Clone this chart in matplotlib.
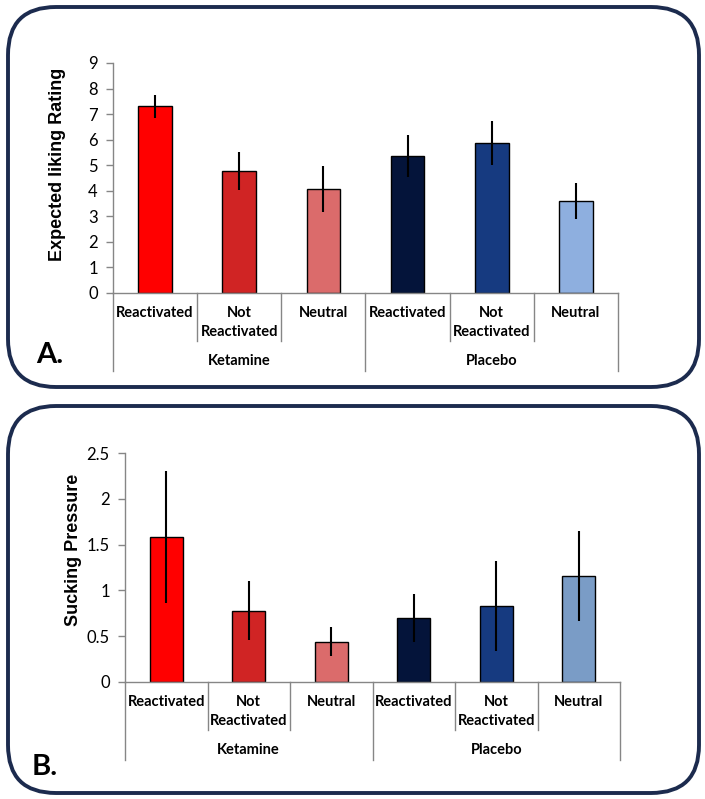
import numpy as np
import matplotlib
matplotlib.use("Agg")
import matplotlib.pyplot as plt
from matplotlib.patches import FancyBboxPatch

# --- data ---
conditions = ["Reactivated", "Not\nReactivated", "Neutral",
              "Reactivated", "Not\nReactivated", "Neutral"]
groups = ["Ketamine", "Placebo"]

liking_mean = [7.3, 4.78, 4.07, 5.36, 5.87, 3.6]
liking_err = [0.45, 0.75, 0.9, 0.82, 0.86, 0.7]

pressure_mean = [1.58, 0.78, 0.44, 0.70, 0.83, 1.16]
pressure_err = [0.72, 0.32, 0.16, 0.26, 0.49, 0.49]

colors_a = ["#FF0000", "#D02424", "#DB6B6B", "#04143A", "#163A80", "#8EAFDF"]
colors_b = ["#FF0000", "#D02424", "#DB6B6B", "#04143A", "#163A80", "#7A9CC6"]

W, H = 705, 799
fig = plt.figure(figsize=(W / 100, H / 100), dpi=100)

AXIS_GRAY = "#868686"
BORDER = "#1C2B4E"


def px_box(x0, y0, x1, y1):
    """pixel box (top-left origin) -> figure fraction rect"""
    return [x0 / W, 1 - y1 / H, (x1 - x0) / W, (y1 - y0) / H]


def draw_border(y0, y1):
    box = FancyBboxPatch((8 / W, 1 - y1 / H), (699 - 8) / W, (y1 - y0) / H,
                         boxstyle="round,pad=0,rounding_size=0.068",
                         transform=fig.transFigure, fill=False,
                         edgecolor=BORDER, linewidth=2.8,
                         mutation_aspect=W / H)
    fig.patches.append(box)


def category_axis(ax, height_px):
    """two-tier category axis under the bars"""
    trans = ax.get_xaxis_transform()
    f = lambda p: -p / height_px
    n = len(conditions)
    for i, lab in enumerate(conditions):
        for j, line in enumerate(lab.split("\n")):
            ax.text(i, f(20 + 19 * j), line, transform=trans, ha="center",
                    va="center", fontsize=10.5, fontweight="bold",
                    family="Lato")
    for k in range(n + 1):
        x = k - 0.5
        depth = 78 if k % 3 == 0 else 48
        ax.plot([x, x], [0, f(depth)], transform=trans, color=AXIS_GRAY,
                lw=1.0, clip_on=False)
    for g, name in enumerate(groups):
        ax.text(g * 3 + 1, f(68), name, transform=trans, ha="center",
                va="center", fontsize=10.5, fontweight="bold", family="Lato")


def bar_panel(rect, means, errs, colors, ymax, step):
    ax = fig.add_axes(rect)
    x = np.arange(len(means))
    ax.bar(x, means, width=0.4, color=colors, edgecolor="black", lw=1.0,
           zorder=2)
    ax.errorbar(x, means, yerr=errs, fmt="none", ecolor="black",
                elinewidth=1.5, capsize=0, zorder=3)
    ax.set_xlim(-0.5, len(means) - 0.5)
    ax.set_ylim(0, ymax)
    ticks = np.arange(0, ymax + step / 2, step)
    ax.set_yticks(ticks)
    ax.set_yticklabels([f"{t:g}" for t in ticks], family="Lato", fontsize=12)
    ax.set_xticks([])
    for s in ["top", "right"]:
        ax.spines[s].set_visible(False)
    for s in ["left", "bottom"]:
        ax.spines[s].set_color(AXIS_GRAY)
        ax.spines[s].set_linewidth(1.0)
    ax.tick_params(axis="y", direction="out", length=5, width=1.0,
                   color=AXIS_GRAY, pad=6)
    category_axis(ax, rect[3] * H)
    return ax


# panel A
draw_border(7, 387)
bar_panel(px_box(113, 63, 618, 293), liking_mean, liking_err, colors_a, 9, 1)
fig.text(57 / W, 1 - 164 / H, "Expected liking Rating", rotation=90,
         ha="center", va="center", fontsize=13, fontweight="bold",
         family="Liberation Sans")
fig.text(50 / W, 1 - 355 / H, "A.", ha="center", va="center", fontsize=21,
         fontweight="bold", family="Lato")

# panel B
draw_border(406, 793)
bar_panel(px_box(125, 453, 620, 682), pressure_mean, pressure_err, colors_b,
          2.5, 0.5)
fig.text(73 / W, 1 - 550 / H, "Sucking Pressure", rotation=90,
         ha="center", va="center", fontsize=13, fontweight="bold",
         family="Liberation Sans")
fig.text(45 / W, 1 - 767 / H, "B.", ha="center", va="center", fontsize=21,
         fontweight="bold", family="Lato")

fig.savefig("out.png", dpi=100)
